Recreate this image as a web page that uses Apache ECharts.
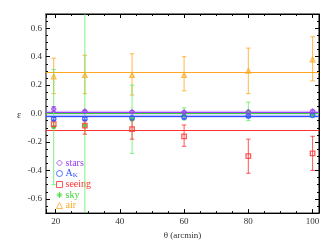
<!DOCTYPE html>
<html>
<head>
<meta charset="utf-8">
<script src="https://cdn.jsdelivr.net/npm/echarts@6/dist/echarts.min.js"></script>
<style>html,body{margin:0;padding:0;background:#fff}#c{width:333px;height:245px}</style>
</head>
<body>
<div id="c"></div>
<script>
// ---- data ----
const theta = [19.4, 29.1, 43.8, 60, 80, 100];

const starsVal = [0.032, 0.016, 0.012, 0.010, 0.011, 0.016];
const starsLo  = [0.016, 0.008, 0.004, 0.003, 0.004, 0.007];
const starsHi  = [0.048, 0.024, 0.020, 0.017, 0.018, 0.026];

const akVal = [-0.037, -0.036, -0.030, -0.026, -0.018, -0.012];
const akLo  = [-0.046, -0.045, -0.039, -0.034, -0.026, -0.020];
const akHi  = [-0.028, -0.027, -0.021, -0.018, -0.010, -0.004];

const seeingVal = [-0.075, -0.085, -0.110, -0.160, -0.300, -0.280];
const seeingLo  = [-0.100, -0.145, -0.180, -0.230, -0.420, -0.400];
const seeingHi  = [-0.050, -0.050, -0.050, -0.080, -0.180, -0.160];

const skyVal = [-0.095, -0.085, -0.040, -0.010, 0.015, -0.008];
const skyLo  = [-0.500, -1.500, -0.280, -0.045, -0.050, -0.020];
const skyHi  = [0.310, 1.500, 0.200, 0.040, 0.080, 0.005];

const airVal = [0.260, 0.270, 0.270, 0.270, 0.300, 0.380];
const airLo  = [0.140, 0.140, 0.130, 0.160, 0.140, 0.230];
const airHi  = [0.390, 0.410, 0.420, 0.400, 0.460, 0.540];

const fitStars = 0.008, fitAk = -0.017, fitSeeing = -0.12, fitSky = -0.002, fitAir = 0.295;

const C = {stars:'#9a3cf0', ak:'#3050ff', seeing:'#ff3030', sky:'#3ad43a', air:'#ffa820'};
const FONT = 'Liberation Serif';
const asterisk = 'path://M0,-1L0,1M-1,0L1,0M-0.7,-0.7L0.7,0.7M-0.7,0.7L0.7,-0.7';

function errData(lo, hi){ return theta.map((t,i)=>[t, lo[i], hi[i]]); }
function ptData(v){ return theta.map((t,i)=>[t, v[i]]); }

function errSeries(name, lo, hi, color, z){
  return {
    type:'custom', name: name+'_err', clip:true, z:z, silent:true,
    data: errData(lo, hi), encode:{x:0, y:[1,2]},
    renderItem(params, api){
      const x = api.value(0), l = api.value(1), h = api.value(2);
      const p1 = api.coord([x, h]), p2 = api.coord([x, l]);
      const w = 2.2;
      const st = {stroke: color, lineWidth: 1.1, opacity: 0.75};
      return {type:'group', children:[
        {type:'line', shape:{x1:p1[0], y1:p1[1], x2:p2[0], y2:p2[1]}, style:st},
        {type:'line', shape:{x1:p1[0]-w, y1:p1[1], x2:p1[0]+w, y2:p1[1]}, style:st},
        {type:'line', shape:{x1:p2[0]-w, y1:p2[1], x2:p2[0]+w, y2:p2[1]}, style:st}
      ]};
    }
  };
}
function ptSeries(name, v, color, symbol, size){
  return {
    type:'scatter', name:name, data: ptData(v), symbol: symbol, symbolSize: size, z: 10,
    itemStyle:{color:'rgba(255,255,255,0)', borderColor: color, borderWidth: 1.3},
    emphasis:{disabled:true}
  };
}
function fitSeries(name, val, color, band, bandColor){
  const s = {
    type:'line', name: name+'_fit', data: [], z: 3,
    markLine:{silent:true, symbol:'none', label:{show:false},
      lineStyle:{color: color, width: 1, type:'solid'},
      data:[{yAxis: val}], animation:false}
  };
  if (band){
    s.markArea = {silent:true, itemStyle:{color: bandColor},
      data:[[{yAxis: val-band},{yAxis: val+band}]]};
  }
  return s;
}

const option = {
  animation:false,
  backgroundColor:'#fff',
  grid:{left:46, right:14, top:14, bottom:29, show:true, borderColor:'#000', borderWidth:1,
        backgroundColor:'rgba(255,255,255,0)'},
  xAxis:[
    {type:'value', min:17, max:102, splitNumber:5, position:'bottom',
      axisLine:{show:true, onZero:false, lineStyle:{color:'#000', width:1}},
      axisTick:{show:true, inside:true, length:4, lineStyle:{color:'#000'}},
      minorTick:{show:true, splitNumber:4, length:2, lineStyle:{color:'#000'}},
      splitLine:{show:false},
      axisLabel:{fontFamily:FONT, fontSize:9, color:'#333', margin:4,
        showMinLabel:false, showMaxLabel:false},
      name:'θ (arcmin)', nameLocation:'middle', nameGap:13,
      nameTextStyle:{fontFamily:FONT, fontSize:9, color:'#333'}},
    {type:'value', min:17, max:102, splitNumber:5, position:'top',
      axisLine:{show:true, onZero:false, lineStyle:{color:'#000', width:1}},
      axisTick:{show:true, inside:true, length:4, lineStyle:{color:'#000'}},
      minorTick:{show:true, splitNumber:4, length:2, lineStyle:{color:'#000'}},
      splitLine:{show:false},
      axisLabel:{show:true, formatter:()=>''}}
  ],
  yAxis:[
    {type:'value', min:-0.7, max:0.7, splitNumber:7, position:'left',
      axisLine:{show:true, onZero:false, lineStyle:{color:'#808080', width:2}},
      axisTick:{show:true, inside:true, length:4, lineStyle:{color:'#000'}},
      minorTick:{show:true, splitNumber:4, length:2, lineStyle:{color:'#000'}},
      splitLine:{show:false},
      axisLabel:{fontFamily:FONT, fontSize:9, color:'#333', margin:4,
        showMinLabel:false, showMaxLabel:false,
        formatter:v=> (Math.abs(v)<1e-9 ? '0.0' : v.toFixed(1))}},
    {type:'value', min:-0.7, max:0.7, splitNumber:7, position:'right',
      axisLine:{show:true, onZero:false, lineStyle:{color:'#000', width:1}},
      axisTick:{show:true, inside:true, length:4, lineStyle:{color:'#000'}},
      minorTick:{show:true, splitNumber:4, length:2, lineStyle:{color:'#000'}},
      splitLine:{show:false},
      axisLabel:{show:true, formatter:()=>''}}
  ],
  legend:{
    orient:'vertical', left:56, top:158, padding:0, itemGap:0.5,
    itemWidth:6, itemHeight:6, selectedMode:false,
    textStyle:{fontFamily:FONT, fontSize:10, padding:[0,0,0,-2],
      rich:{a:{fontFamily:FONT, fontSize:10, color:C.ak},
            k:{fontFamily:FONT, fontSize:7, color:C.ak, padding:[4,0,0,0]}}},
    formatter: n => n === 'A_K' ? '{a|A}{k|K}' : n,
    data:[
      {name:'stars', icon:'diamond', itemStyle:{color:'rgba(0,0,0,0)', borderColor:C.stars, borderWidth:1}, textStyle:{color:C.stars}},
      {name:'A_K', icon:'circle', itemStyle:{color:'rgba(0,0,0,0)', borderColor:C.ak, borderWidth:1}, textStyle:{color:C.ak}},
      {name:'seeing', icon:'rect', itemStyle:{color:'rgba(0,0,0,0)', borderColor:C.seeing, borderWidth:1}, textStyle:{color:C.seeing}},
      {name:'sky', icon:asterisk, itemStyle:{color:'rgba(0,0,0,0)', borderColor:C.sky, borderWidth:1}, textStyle:{color:C.sky}},
      {name:'air', icon:'triangle', itemStyle:{color:'rgba(0,0,0,0)', borderColor:C.air, borderWidth:1}, textStyle:{color:C.air}}
    ]
  },
  graphic:[
    {type:'text', left:17, top:110, style:{text:'ε', fontFamily:FONT, fontSize:10, fill:'#333'}}
  ],
  series:[
    fitSeries('stars', fitStars, C.stars, 0.012, 'rgba(160,70,255,0.35)'),
    fitSeries('ak', fitAk, C.ak, 0.010, 'rgba(60,80,255,0.35)'),
    fitSeries('sky', fitSky, C.sky, 0, null),
    fitSeries('seeing', fitSeeing, C.seeing, 0, null),
    fitSeries('air', fitAir, C.air, 0, null),
    errSeries('air', airLo, airHi, C.air, 5),
    errSeries('sky', skyLo, skyHi, '#66ee66', 5),
    errSeries('seeing', seeingLo, seeingHi, C.seeing, 6),
    errSeries('ak', akLo, akHi, C.ak, 6),
    errSeries('stars', starsLo, starsHi, C.stars, 6),
    ptSeries('air', airVal, C.air, 'triangle', 4.5),
    ptSeries('sky', skyVal, C.sky, asterisk, 4.5),
    ptSeries('seeing', seeingVal, C.seeing, 'rect', 4.5),
    ptSeries('A_K', akVal, C.ak, 'circle', 4.5),
    ptSeries('stars', starsVal, C.stars, 'diamond', 4.5)
  ]
};
const chart = echarts.init(document.getElementById('c'), null, {renderer:'canvas'});
chart.setOption(option);
</script>
</body>
</html>
